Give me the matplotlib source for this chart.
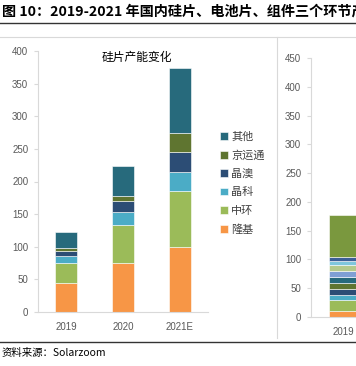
import matplotlib
matplotlib.use("Agg")
import matplotlib.pyplot as plt
import numpy as np

plt.rcParams['font.family'] = ['Noto Sans CJK SC', 'DejaVu Sans']

# left chart: wafer capacity (GW)
years = ["2019", "2020", "2021E"]
companies = ["隆基", "中环", "晶科", "晶澳", "京运通", "其他"]
longi = [45, 75, 100]
zhonghuan = [30, 58, 85]
jinko = [11, 20, 29]
ja = [7, 17, 31]
jyt = [5, 8, 29]
other = [24, 45, 100]
series = [longi, zhonghuan, jinko, ja, jyt, other]
colors = ["#F79646", "#9BBB59", "#4BACC6", "#2C4D75", "#5F7530", "#276A7C"]

# right chart (partly visible): only the 2019 bar shows
right_years = ["2019"]
right_segments = [11, 18.5, 9, 10.5, 10.5, 10.5, 10.5, 9, 7, 7, 74]
right_colors = ["#F79646", "#9BBB59", "#4BACC6", "#2C4D75", "#5F7530", "#276A7C",
                "#7F9FD4", "#B4C98C", "#7FC6DC", "#3C5F96", "#7A983E"]

W, H = 356, 366
fig = plt.figure(figsize=(W / 100, H / 100), dpi=100)

def box(x0, y0, x1, y1):
    # pixel box (top-left origin) -> figure fraction
    return [x0 / W, 1 - y1 / H, (x1 - x0) / W, (y1 - y0) / H]

gray = "#D9D9D9"
tick_col = "#595959"

# ---- left chart
ax = fig.add_axes(box(38, 51, 208, 312))
x = np.arange(len(years))
bottom = np.zeros(len(years))
for vals, c, name in zip(series, colors, companies):
    ax.bar(x, vals, bottom=bottom, width=0.39, color=c, label=name,
           edgecolor="white", linewidth=0.4)
    bottom += np.array(vals)
ax.set_xlim(-0.5, 2.5)
ax.set_ylim(0, 400)
ax.set_yticks(np.arange(0, 401, 50))
ax.set_xticks(x)
ax.set_xticklabels(years)
for s in ["top", "right"]:
    ax.spines[s].set_visible(False)
for s in ["left", "bottom"]:
    ax.spines[s].set_color(gray)
    ax.spines[s].set_linewidth(0.8)
ax.tick_params(axis="y", colors=gray, labelcolor=tick_col, labelsize=7,
               length=3, direction="out", pad=4)
ax.tick_params(axis="x", length=0, labelcolor=tick_col, labelsize=7, pad=7)
for lab in ax.get_xticklabels() + ax.get_yticklabels():
    lab.set_family(["Liberation Sans", "DejaVu Sans"])

handles, labels = ax.get_legend_handles_labels()
leg = fig.legend(handles[::-1], labels[::-1], loc="upper left",
                 bbox_to_anchor=(216 / W, 1 - 127 / H), frameon=False,
                 fontsize=8, handlelength=0.7, handleheight=0.7,
                 handletextpad=0.25, labelspacing=0.75, borderaxespad=0)
for t in leg.get_texts():
    t.set_color("#404040")

fig.text(137 / W, 1 - 57 / H, "硅片产能变化", ha="center", va="center",
         fontsize=8.5, color="#000000")

# ---- right chart (cut off by figure edge, only first category in view)
ax2 = fig.add_axes(box(311, 58, 356, 317))
b = 0
for v, c in zip(right_segments, right_colors):
    ax2.bar([0], [v], bottom=b, width=0.44, color=c, edgecolor="white",
            linewidth=0.4, clip_on=False)
    b += v
ax2.set_xlim(-0.5, -0.5 + 45 / 64)
ax2.set_ylim(0, 450)
ax2.set_yticks(np.arange(0, 451, 50))
ax2.set_xticks(np.arange(len(right_years)))
ax2.set_xticklabels(right_years)
for s in ["top", "right"]:
    ax2.spines[s].set_visible(False)
for s in ["left", "bottom"]:
    ax2.spines[s].set_color(gray)
    ax2.spines[s].set_linewidth(0.8)
ax2.tick_params(axis="y", colors=gray, labelcolor=tick_col, labelsize=7,
                length=3, direction="out", pad=4)
ax2.tick_params(axis="x", length=0, labelcolor=tick_col, labelsize=7, pad=7)
for lab in ax2.get_xticklabels() + ax2.get_yticklabels():
    lab.set_family(["Liberation Sans", "DejaVu Sans"])

# ---- frame lines and texts
def hline(y, color, lw):
    fig.add_artist(plt.Line2D([0, 1], [1 - y / H] * 2, color=color, linewidth=lw,
                              transform=fig.transFigure))

hline(23, "#333333", 1.0)
hline(37, gray, 0.8)
hline(342, "#333333", 1.0)
fig.add_artist(plt.Line2D([277 / W] * 2, [1 - 37 / H, 1 - 338 / H], color=gray,
                          linewidth=0.8, transform=fig.transFigure))

fig.text(2 / W, 1 - 12 / H, "图 10：2019-2021 年国内硅片、电池片、组件三个环节产能变化",
         ha="left", va="center", fontsize=10.2, fontweight="bold", color="#000000")
fig.text(2 / W, 1 - 353 / H, "资料来源：Solarzoom", ha="left", va="center",
         fontsize=7.5, color="#000000")

fig.savefig("out.png", dpi=100)
